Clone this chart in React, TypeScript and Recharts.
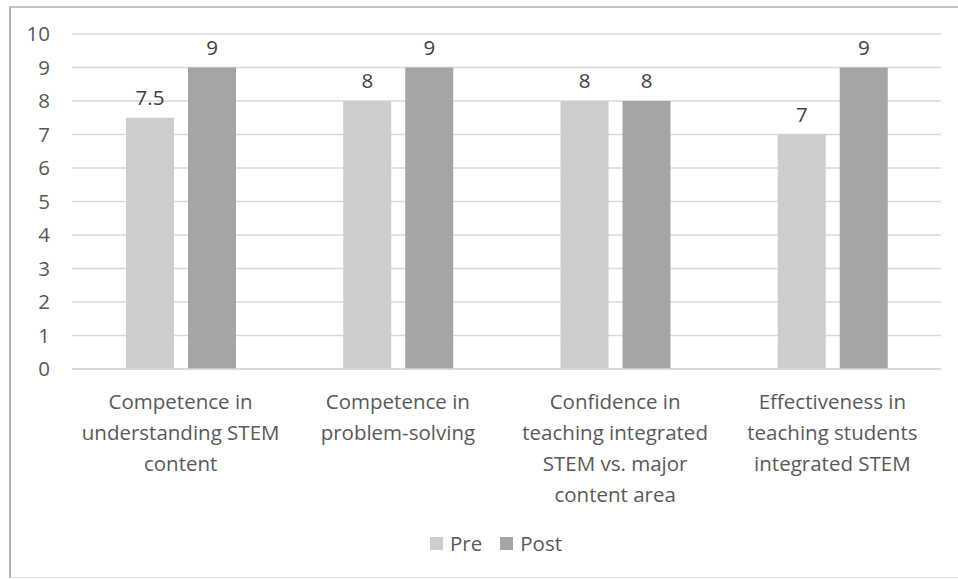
import React from 'react'
import {
  BarChart,
  Bar,
  XAxis,
  YAxis,
  CartesianGrid,
  Legend,
  LabelList
} from 'recharts'

const categories = [
  'Competence in understanding STEM content',
  'Competence in problem-solving',
  'Confidence in teaching integrated STEM vs. major content area',
  'Effectiveness in teaching students integrated STEM'
]
const preValues = [7.5, 8, 8, 7]
const postValues = [9, 9, 8, 9]
const yTicks = [0, 1, 2, 3, 4, 5, 6, 7, 8, 9, 10]

const data = categories.map((name, i) => ({ name, pre: preValues[i], post: postValues[i] }))

const font = "'Open Sans', sans-serif"
const preColor = '#cdcdcd'
const postColor = '#a5a5a5'

// greedy word wrap for the category labels
const wrap = (text: string, max: number) => {
  const lines: string[] = []
  let cur = ''
  text.split(' ').forEach((w) => {
    const next = cur ? cur + ' ' + w : w
    if (next.length > max && cur) {
      lines.push(cur)
      cur = w
    } else {
      cur = next
    }
  })
  if (cur) lines.push(cur)
  return lines
}

const CategoryTick = (props: any) => {
  const { x, y, payload } = props
  const lines = wrap(payload.value, 19)
  return (
    <text x={x} y={y} textAnchor="middle" fill="#595959" fontSize={20.5} fontFamily={font}>
      {lines.map((l, i) => (
        <tspan key={i} x={x} y={y + 40 + i * 31}>
          {l}
        </tspan>
      ))}
    </text>
  )
}

const LegendContent = () => (
  <div style={{ display: 'flex', alignItems: 'center', fontFamily: font, fontSize: 20.5, color: '#595959' }}>
    <span style={{ width: 13, height: 13, background: preColor, display: 'inline-block', marginRight: 7 }} />
    <span style={{ marginRight: 18 }}>Pre</span>
    <span style={{ width: 13, height: 13, background: postColor, display: 'inline-block', marginRight: 7 }} />
    <span>Post</span>
  </div>
)

const App: React.FC = () => {
  return (
    <div style={{ position: 'absolute', left: 0, top: 0, width: 958, height: 579, background: '#fff', overflow: 'hidden' }}>
      <div
        style={{
          position: 'absolute',
          left: 9,
          top: 6,
          width: 960,
          height: 569,
          borderLeft: '2px solid #b0b0b0',
          borderTop: '2px solid #c4c4c4',
          borderBottom: '1px solid #e4e4e4'
        }}
      />
      <BarChart
        width={958}
        height={579}
        data={data}
        margin={{ top: 34, right: 17, left: 0, bottom: 42 }}
        barSize={48}
        barGap={14}
        style={{ position: 'absolute', left: 0, top: 0 }}
      >
        <CartesianGrid vertical={false} stroke="#d9d9d9" strokeWidth={1.5} />
        <XAxis
          dataKey="name"
          height={140}
          axisLine={{ stroke: '#d9d9d9', strokeWidth: 1.5 }}
          tickLine={false}
          tickSize={0}
          tickMargin={0}
          interval={0}
          tick={<CategoryTick />}
        />
        <YAxis
          width={72}
          domain={[0, 10]}
          ticks={yTicks}
          axisLine={false}
          tickLine={false}
          tickSize={0}
          tickMargin={22}
          tick={{ fill: '#595959', fontSize: 20.5, fontFamily: font }}
        />
        <Legend
          layout="vertical"
          align="center"
          verticalAlign="bottom"
          content={<LegendContent />}
          wrapperStyle={{ left: 430, top: 529, width: 'auto' }}
        />
        <Bar dataKey="pre" name="Pre" fill={preColor} isAnimationActive={false}>
          <LabelList dataKey="pre" position="top" offset={13} fill="#404040" fontSize={20.5} fontFamily={font} />
        </Bar>
        <Bar dataKey="post" name="Post" fill={postColor} isAnimationActive={false}>
          <LabelList dataKey="post" position="top" offset={13} fill="#404040" fontSize={20.5} fontFamily={font} />
        </Bar>
      </BarChart>
    </div>
  )
}

export default App
